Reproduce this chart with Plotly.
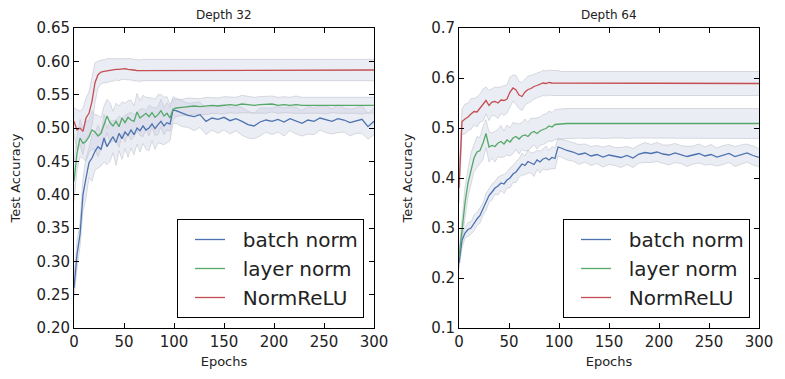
import plotly.graph_objects as go

# epochs sampled every 3 early on, every 6 afterwards
epochs = list(range(0, 100, 3)) + list(range(102, 301, 6))

# ---- Depth 32 ----
d32_batch = [0.260, 0.310, 0.340, 0.400, 0.425, 0.448, 0.455, 0.465, 0.472, 0.468, 0.485, 0.472,
             0.480, 0.487, 0.478, 0.492, 0.484, 0.494, 0.489, 0.497, 0.490, 0.500, 0.496, 0.503,
             0.497, 0.500, 0.506, 0.499, 0.505, 0.510, 0.503, 0.508, 0.506, 0.527,
             0.526, 0.522, 0.519, 0.517, 0.520, 0.510, 0.515, 0.513, 0.516, 0.511, 0.514, 0.510,
             0.505, 0.503, 0.509, 0.512, 0.510, 0.513, 0.509, 0.514, 0.511, 0.507, 0.512, 0.510,
             0.515, 0.513, 0.510, 0.514, 0.512, 0.508, 0.511, 0.513, 0.502, 0.510]
d32_layer = [0.420, 0.462, 0.485, 0.477, 0.480, 0.487, 0.497, 0.494, 0.488, 0.492, 0.505, 0.518,
             0.508, 0.503, 0.510, 0.502, 0.515, 0.508, 0.516, 0.512, 0.510, 0.524, 0.515, 0.518,
             0.522, 0.517, 0.523, 0.516, 0.520, 0.526, 0.518, 0.522, 0.515, 0.528,
             0.530, 0.531, 0.532, 0.533, 0.532, 0.533, 0.534, 0.533, 0.534, 0.535, 0.534, 0.536,
             0.535, 0.534, 0.535, 0.535, 0.536, 0.534, 0.535, 0.534, 0.535, 0.534, 0.534, 0.535,
             0.534, 0.534, 0.535, 0.534, 0.534, 0.535, 0.534, 0.534, 0.535, 0.534]
d32_norm = [0.510, 0.497, 0.500, 0.495, 0.515, 0.522, 0.540, 0.568, 0.580, 0.584, 0.585, 0.586,
            0.587, 0.587, 0.588, 0.588, 0.589, 0.589, 0.588, 0.588, 0.587, 0.586, 0.586, 0.587,
            0.587, 0.587, 0.587, 0.587, 0.587, 0.587, 0.587, 0.587, 0.587, 0.587,
            0.587, 0.587, 0.587, 0.587, 0.587, 0.587, 0.587, 0.587, 0.587, 0.587, 0.587, 0.587,
            0.587, 0.587, 0.587, 0.587, 0.587, 0.587, 0.587, 0.587, 0.587, 0.587, 0.587, 0.587,
            0.587, 0.587, 0.587, 0.587, 0.587, 0.587, 0.587, 0.587, 0.587, 0.587]
d32_batch_sd = [0.015, 0.020, 0.018, 0.025, 0.030, 0.022, 0.035, 0.028, 0.032, 0.025, 0.036, 0.027,
                0.030, 0.024, 0.034, 0.026, 0.031, 0.025, 0.033, 0.027, 0.030, 0.024, 0.032, 0.026,
                0.029, 0.034, 0.025, 0.031, 0.027, 0.033, 0.028, 0.030, 0.025, 0.020,
                0.019, 0.020, 0.018, 0.021, 0.019, 0.020, 0.018, 0.021, 0.019, 0.020, 0.018, 0.021,
                0.020, 0.019, 0.021, 0.018, 0.020, 0.019, 0.021, 0.018, 0.020, 0.019, 0.021, 0.020,
                0.018, 0.020, 0.019, 0.021, 0.018, 0.020, 0.019, 0.021, 0.019, 0.020]
d32_layer_sd = [0.030, 0.025, 0.028, 0.022, 0.030, 0.024, 0.029, 0.026, 0.031, 0.023, 0.028, 0.025,
                0.030, 0.022, 0.027, 0.031, 0.024, 0.029, 0.025, 0.030, 0.023, 0.028, 0.026, 0.031,
                0.024, 0.029, 0.022, 0.027, 0.030, 0.024, 0.028, 0.025, 0.020, 0.015,
                0.013, 0.012, 0.013, 0.012, 0.012, 0.013, 0.012, 0.012, 0.013, 0.012, 0.012, 0.013,
                0.012, 0.012, 0.012, 0.013, 0.012, 0.012, 0.012, 0.012, 0.013, 0.012, 0.012, 0.012,
                0.012, 0.013, 0.012, 0.012, 0.012, 0.012, 0.012, 0.013, 0.012, 0.012]
d32_norm_sd = [0.020, 0.030, 0.025, 0.035, 0.030, 0.032, 0.036, 0.030, 0.020, 0.018, 0.017, 0.018,
               0.017, 0.017, 0.016, 0.017, 0.016, 0.016, 0.016, 0.016, 0.016, 0.016, 0.016, 0.016,
               0.016, 0.016, 0.016, 0.016, 0.016, 0.016, 0.016, 0.016, 0.016, 0.016,
               0.016, 0.016, 0.016, 0.016, 0.016, 0.016, 0.016, 0.016, 0.016, 0.016, 0.016, 0.016,
               0.016, 0.016, 0.016, 0.016, 0.016, 0.016, 0.016, 0.016, 0.016, 0.016, 0.016, 0.016,
               0.016, 0.016, 0.016, 0.016, 0.016, 0.016, 0.016, 0.016, 0.016, 0.016]

# ---- Depth 64 ----
d64_batch = [0.230, 0.275, 0.290, 0.297, 0.300, 0.310, 0.318, 0.325, 0.338, 0.352, 0.365, 0.372,
             0.380, 0.384, 0.390, 0.388, 0.396, 0.400, 0.408, 0.412, 0.420, 0.428, 0.425, 0.433,
             0.430, 0.427, 0.436, 0.432, 0.438, 0.440, 0.436, 0.441, 0.439, 0.462,
             0.460, 0.455, 0.452, 0.447, 0.450, 0.444, 0.447, 0.442, 0.446, 0.443, 0.441, 0.445,
             0.440, 0.448, 0.451, 0.449, 0.452, 0.448, 0.446, 0.450, 0.447, 0.443, 0.446, 0.449,
             0.444, 0.447, 0.442, 0.446, 0.449, 0.443, 0.447, 0.450, 0.445, 0.441]
d64_layer = [0.240, 0.300, 0.350, 0.390, 0.418, 0.440, 0.452, 0.455, 0.470, 0.489, 0.462, 0.465,
             0.463, 0.470, 0.473, 0.468, 0.476, 0.472, 0.480, 0.483, 0.478, 0.484, 0.486, 0.483,
             0.490, 0.493, 0.489, 0.494, 0.497, 0.499, 0.504, 0.502, 0.507, 0.507,
             0.508, 0.509, 0.509, 0.510, 0.509, 0.510, 0.510, 0.509, 0.510, 0.510, 0.510, 0.509,
             0.510, 0.510, 0.510, 0.510, 0.509, 0.510, 0.510, 0.510, 0.510, 0.509, 0.510, 0.510,
             0.510, 0.509, 0.509, 0.509, 0.509, 0.509, 0.509, 0.509, 0.509, 0.509]
d64_norm = [0.380, 0.513, 0.518, 0.522, 0.528, 0.533, 0.532, 0.540, 0.546, 0.555, 0.545, 0.552,
            0.553, 0.550, 0.556, 0.555, 0.558, 0.572, 0.580, 0.576, 0.566, 0.563, 0.572, 0.577,
            0.579, 0.583, 0.585, 0.587, 0.590, 0.589, 0.591, 0.590, 0.590, 0.590,
            0.589, 0.589, 0.589, 0.589, 0.589, 0.589, 0.589, 0.589, 0.589, 0.589, 0.589, 0.589,
            0.589, 0.589, 0.589, 0.589, 0.589, 0.589, 0.589, 0.589, 0.589, 0.589, 0.589, 0.589,
            0.589, 0.589, 0.589, 0.589, 0.589, 0.589, 0.589, 0.589, 0.589, 0.589]
d64_batch_sd = [0.012, 0.015, 0.010, 0.014, 0.012, 0.016, 0.013, 0.015, 0.012, 0.017, 0.014, 0.016,
                0.013, 0.018, 0.015, 0.019, 0.016, 0.020, 0.017, 0.021, 0.018, 0.022, 0.019, 0.023,
                0.020, 0.024, 0.019, 0.022, 0.020, 0.024, 0.019, 0.022, 0.021, 0.018,
                0.018, 0.019, 0.018, 0.020, 0.018, 0.019, 0.018, 0.020, 0.019, 0.018, 0.020, 0.018,
                0.019, 0.018, 0.020, 0.018, 0.019, 0.018, 0.020, 0.019, 0.018, 0.020, 0.018, 0.019,
                0.018, 0.020, 0.018, 0.019, 0.018, 0.020, 0.019, 0.018, 0.019, 0.018]
d64_layer_sd = [0.015, 0.025, 0.030, 0.028, 0.032, 0.027, 0.031, 0.026, 0.033, 0.028, 0.030, 0.025,
                0.031, 0.027, 0.032, 0.026, 0.030, 0.028, 0.031, 0.026, 0.030, 0.027, 0.032, 0.028,
                0.030, 0.026, 0.031, 0.028, 0.030, 0.029, 0.030, 0.029, 0.030, 0.030,
                0.030, 0.030, 0.030, 0.030, 0.030, 0.030, 0.030, 0.030, 0.030, 0.030, 0.030, 0.030,
                0.030, 0.030, 0.030, 0.030, 0.030, 0.030, 0.030, 0.030, 0.030, 0.030, 0.030, 0.030,
                0.030, 0.030, 0.030, 0.030, 0.030, 0.030, 0.030, 0.030, 0.030, 0.030]
d64_norm_sd = [0.030, 0.025, 0.030, 0.027, 0.031, 0.026, 0.030, 0.028, 0.032, 0.027, 0.030, 0.026,
               0.029, 0.031, 0.027, 0.030, 0.028, 0.030, 0.026, 0.029, 0.027, 0.028, 0.026, 0.027,
               0.026, 0.025, 0.025, 0.025, 0.025, 0.025, 0.025, 0.025, 0.025, 0.025,
               0.024, 0.024, 0.024, 0.024, 0.024, 0.024, 0.024, 0.024, 0.024, 0.024, 0.024, 0.024,
               0.024, 0.024, 0.024, 0.024, 0.024, 0.024, 0.024, 0.024, 0.024, 0.024, 0.024, 0.024,
               0.024, 0.024, 0.024, 0.024, 0.024, 0.024, 0.024, 0.024, 0.024, 0.024]

names = ["batch norm", "layer norm", "NormReLU"]
colors = ["#4C72B0", "#55A868", "#C44E52"]

FONT = "DejaVu Sans"
BAND_FILL = "rgba(200,205,225,0.36)"
BAND_EDGE = "rgba(190,192,202,0.55)"
PAD = "\u00a0\u00a0"  # little gap between legend line and label

fig = go.Figure()

panels = [
    ("x", "y", "legend", [d32_batch, d32_layer, d32_norm], [d32_batch_sd, d32_layer_sd, d32_norm_sd]),
    ("x2", "y2", "legend2", [d64_batch, d64_layer, d64_norm], [d64_batch_sd, d64_layer_sd, d64_norm_sd]),
]

for xa, ya, leg, means, sds in panels:
    # shaded bands first so the mean lines sit on top
    for m, s in zip(means, sds):
        hi = [a + b for a, b in zip(m, s)]
        lo = [a - b for a, b in zip(m, s)]
        fig.add_trace(go.Scatter(x=epochs, y=hi, xaxis=xa, yaxis=ya, mode="lines",
                                 line=dict(color=BAND_EDGE, width=1), showlegend=False,
                                 hoverinfo="skip"))
        fig.add_trace(go.Scatter(x=epochs, y=lo, xaxis=xa, yaxis=ya, mode="lines",
                                 line=dict(color=BAND_EDGE, width=1), fill="tonexty",
                                 fillcolor=BAND_FILL, showlegend=False, hoverinfo="skip"))
    for m, name, c in zip(means, names, colors):
        fig.add_trace(go.Scatter(x=epochs, y=m, xaxis=xa, yaxis=ya, mode="lines", name=PAD + name,
                                 line=dict(color=c, width=1.3), legend=leg))

axis_common = dict(showline=True, linecolor="black", linewidth=1, mirror="allticks",
                   ticks="inside", ticklen=5, tickcolor="black", showgrid=False,
                   zeroline=False, tickfont=dict(family=FONT, size=15, color="#222"),
                   automargin=False)

legend_common = dict(y=10 / 300, xanchor="right", yanchor="bottom", traceorder="normal",
                     bordercolor="black", borderwidth=1, bgcolor="white", indentation=12,
                     font=dict(family=FONT, size=20, color="#222"))

xdom1 = [0, 300 / 685]
xdom2 = [385 / 685, 1]

# page body has an 8px margin, so the figure is 8px smaller than the window
fig.update_layout(
    width=777, height=371,
    margin=dict(l=66, r=26, t=20, b=51),
    paper_bgcolor="white", plot_bgcolor="white",
    font=dict(family=FONT, color="#222"),
    xaxis=dict(domain=xdom1, range=[0, 300], tickvals=[0, 50, 100, 150, 200, 250, 300],
               title=dict(text="Epochs", font=dict(size=13), standoff=6), anchor="y", **axis_common),
    yaxis=dict(domain=[0, 1], range=[0.2, 0.65], dtick=0.05, tick0=0.2, tickformat=".2f",
               title=dict(text="Test Accuracy", font=dict(size=13)), anchor="x", **axis_common),
    xaxis2=dict(domain=xdom2, range=[0, 300], tickvals=[0, 50, 100, 150, 200, 250, 300],
                title=dict(text="Epochs", font=dict(size=13), standoff=6), anchor="y2", **axis_common),
    yaxis2=dict(domain=[0, 1], range=[0.1, 0.7], dtick=0.1, tick0=0.1, tickformat=".1f",
                title=dict(text="Test Accuracy", font=dict(size=13)), anchor="x2", **axis_common),
    legend=dict(x=290 / 685, **legend_common),
    legend2=dict(x=676 / 685, **legend_common),
    annotations=[
        dict(text="Depth 32", x=150 / 685, y=1.0433, xref="paper", yref="paper",
             showarrow=False, font=dict(size=12), xanchor="center", yanchor="middle"),
        dict(text="Depth 64", x=535 / 685, y=1.0433, xref="paper", yref="paper",
             showarrow=False, font=dict(size=12), xanchor="center", yanchor="middle"),
    ],
)

fig.write_html("out.html")
